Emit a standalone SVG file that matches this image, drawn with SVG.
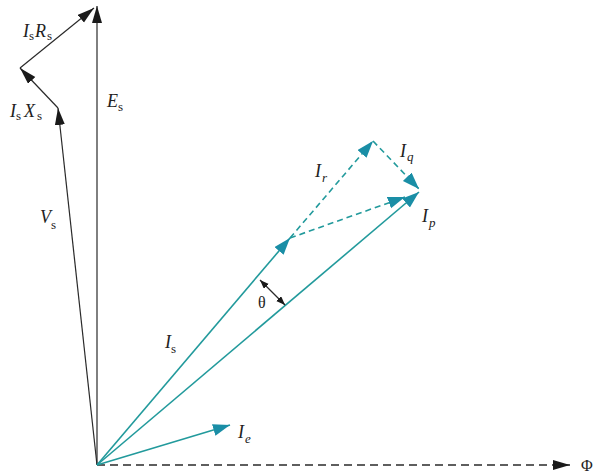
<svg xmlns="http://www.w3.org/2000/svg" width="596" height="475" viewBox="0 0 596 475">
<style>
.blk{stroke:#2a2a2a;stroke-width:1.2;fill:none}
.tl{stroke:#229a9c;stroke-width:1.6;fill:none}
.dash{stroke-dasharray:8,5;stroke-width:1.5}
.tdash{stroke-dasharray:6,4}
text{font-family:"Liberation Serif","Times New Roman",serif;fill:#222}
.lab{font-size:18px;font-style:italic}
.sub{font-size:13px;font-style:normal}
.subi{font-size:13px;font-style:italic}
.up{font-size:16px;font-style:normal}
</style>
<defs>
<marker id="hb" markerUnits="userSpaceOnUse" markerWidth="18" markerHeight="12" refX="17" refY="5" orient="auto">
<path d="M0,0 L17,5 L0,10 z" fill="#1a1a1a"/>
</marker>
<marker id="ht" markerUnits="userSpaceOnUse" markerWidth="18" markerHeight="14" refX="17" refY="6" orient="auto">
<path d="M0,0 L17,6 L0,12 z" fill="#1a8ea6"/>
</marker>
<marker id="hs" markerUnits="userSpaceOnUse" markerWidth="10" markerHeight="8" refX="9" refY="3.5" orient="auto-start-reverse">
<path d="M0,0 L9,3.5 L0,7 z" fill="#1a1a1a"/>
</marker>
</defs>
<rect width="596" height="475" fill="#ffffff"/>
<g id="connectors">
<line class="blk" x1="97" y1="465" x2="97" y2="6" marker-end="url(#hb)"/>
<line class="blk" x1="20" y1="68" x2="94" y2="8" marker-end="url(#hb)"/>
<line class="blk" x1="58" y1="108" x2="20" y2="68" marker-end="url(#hb)"/>
<line class="blk" x1="97" y1="465" x2="58" y2="108" marker-end="url(#hb)"/>
<line class="blk dash" x1="97" y1="465" x2="570" y2="465" marker-end="url(#hb)"/>
<line class="tl" x1="97" y1="465" x2="290" y2="238" marker-end="url(#ht)"/>
<line class="tl" x1="97" y1="465" x2="419" y2="192" marker-end="url(#ht)"/>
<line class="tl" x1="97" y1="465" x2="230" y2="425" marker-end="url(#ht)"/>
<line class="tl tdash" x1="290" y1="238" x2="373" y2="141" marker-end="url(#ht)"/>
<line class="tl tdash" x1="373" y1="141" x2="419" y2="189" marker-end="url(#ht)"/>
<line class="tl tdash" x1="290" y1="238" x2="405" y2="197" marker-end="url(#ht)"/>
<line class="blk" x1="260" y1="280" x2="285" y2="305" marker-start="url(#hs)" marker-end="url(#hs)"/>
</g>
<g id="label-IsRs"><text class="lab" x="23" y="37">I</text><text class="sub" x="29" y="40">s</text><text class="lab" x="35" y="37">R</text><text class="sub" x="47" y="40">s</text></g>
<g id="label-IsXs"><text class="lab" x="10" y="117">I</text><text class="sub" x="16" y="120">s</text><text class="lab" x="24" y="117">X</text><text class="sub" x="37" y="120">s</text></g>
<g id="label-Es"><text class="lab" x="107" y="107">E</text><text class="sub" x="118" y="111">s</text></g>
<g id="label-Vs"><text class="lab" x="40" y="223">V</text><text class="sub" x="51" y="229">s</text></g>
<g id="label-Is"><text class="lab" x="165" y="348">I</text><text class="sub" x="171" y="353">s</text></g>
<g id="label-Ir"><text class="lab" x="315" y="177">I</text><text class="subi" x="322" y="182">r</text></g>
<g id="label-Iq"><text class="lab" x="400" y="157">I</text><text class="subi" x="407" y="161">q</text></g>
<g id="label-Ip"><text class="lab" x="422" y="222">I</text><text class="subi" x="429" y="227">p</text></g>
<g id="label-Ie"><text class="lab" x="238" y="438">I</text><text class="subi" x="245" y="443">e</text></g>
<g id="label-theta"><text class="up" x="258" y="308">θ</text></g>
<g id="label-Phi"><text class="up" x="581" y="471">Φ</text></g>
</svg>
